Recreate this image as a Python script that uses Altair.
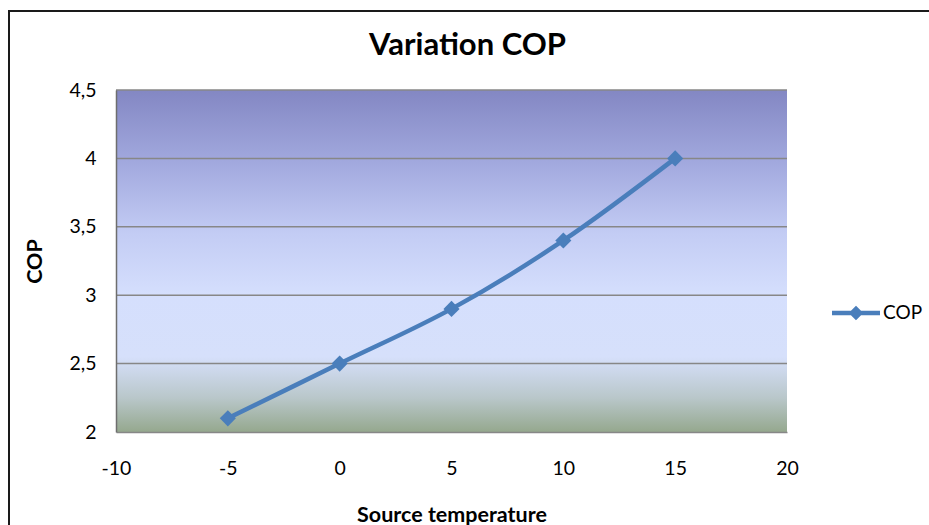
import altair as alt
import pandas as pd

# Source temperature (°C) and measured coefficient of performance
temperature = [-5, 0, 5, 10, 15]
cop = [2.1, 2.5, 2.9, 3.4, 4.0]
series_name = "COP"
chart_title = "Variation COP"

x_ticks = [-10, -5, 0, 5, 10, 15, 20]
y_ticks = [2, 2.5, 3, 3.5, 4, 4.5]

W, H = 671, 342
FONT = "Lato"
LINE_COLOR = "#4a7ebb"
GRID_COLOR = "#878787"

df = pd.DataFrame({"temp": temperature, "cop": cop, "series": [series_name] * len(cop)})
grid_df = pd.DataFrame({"cop": y_ticks[1:]})

x_scale = alt.Scale(domain=[x_ticks[0], x_ticks[-1]], nice=False, zero=False)
y_scale = alt.Scale(domain=[y_ticks[0], y_ticks[-1]], nice=False, zero=False)

x_axis = alt.Axis(
    values=x_ticks, title="Source temperature", grid=False, ticks=False,
    domainColor=GRID_COLOR, domainWidth=1.5,
    labelExpr="toString(datum.value)", labelFlush=False,
    labelFont=FONT, labelFontSize=19.5, labelColor="#000", labelPadding=27,
    titleFont=FONT, titleFontSize=21.5, titleFontWeight="bold", titleColor="#000",
    titleBaseline="alphabetic", titleY=89, titleX=W / 2, zindex=1,
)
y_axis = alt.Axis(
    values=y_ticks, title="COP", grid=False, ticks=False,
    domainColor="#6e6e6e", domainWidth=1.5,
    labelExpr="replace(toString(datum.value), '.', ',')", labelFlush=False,
    labelFont=FONT, labelFontSize=19.5, labelColor="#000", labelPadding=20,
    titleFont=FONT, titleFontSize=21.5, titleFontWeight="bold", titleColor="#000",
    titleAngle=-90, titleBaseline="middle", titleX=-81, titleY=H / 2, zindex=1,
)

# Excel-style vertical gradient behind the plot
gradient = alt.LinearGradient(
    gradient="linear", x1=0, y1=0, x2=0, y2=1,
    stops=[
        alt.GradientStop(color="#8387c3", offset=0.0),
        alt.GradientStop(color="#a3aadf", offset=0.22),
        alt.GradientStop(color="#c3ccf4", offset=0.42),
        alt.GradientStop(color="#d5dffd", offset=0.6),
        alt.GradientStop(color="#d6e0fb", offset=0.78),
        alt.GradientStop(color="#b9c7ca", offset=0.9),
        alt.GradientStop(color="#95a88e", offset=1.0),
    ],
)

one_row = alt.Data(values=[{}])

background = alt.Chart(one_row).mark_rect(fill=gradient).encode(
    x=alt.value(0), x2=alt.value(W), y=alt.value(0), y2=alt.value(H)
)

# Outer chart border
frame = alt.Chart(one_row).mark_rect(
    fill="transparent", stroke="#1a1a1a", strokeWidth=2
).encode(
    x=alt.value(-107), x2=alt.value(W + 160), y=alt.value(-79), y2=alt.value(H + 120)
)

title = alt.Chart(one_row).mark_text(
    text=chart_title, font=FONT, fontSize=31, fontWeight="bold", color="#000",
    align="center", baseline="alphabetic",
).encode(x=alt.value(W / 2 + 16), y=alt.value(-35))

grid = alt.Chart(grid_df).mark_rule(color=GRID_COLOR, strokeWidth=1.5).encode(
    y=alt.Y("cop:Q", scale=y_scale, axis=y_axis)
)

line = alt.Chart(df).mark_line(
    color=LINE_COLOR, strokeWidth=4.5, interpolate="catmull-rom"
).encode(
    x=alt.X("temp:Q", scale=x_scale, axis=x_axis),
    y=alt.Y("cop:Q", scale=y_scale, axis=y_axis),
)

legend_symbol = (
    "M-1,-0.09L-0.21,-0.09L0,-0.3L0.21,-0.09L1,-0.09L1,0.09"
    "L0.21,0.09L0,0.3L-0.21,0.09L-1,0.09Z"
)

points = alt.Chart(df).mark_point(
    shape="diamond", filled=True, size=260, opacity=1
).encode(
    x=alt.X("temp:Q", scale=x_scale, axis=x_axis),
    y=alt.Y("cop:Q", scale=y_scale, axis=y_axis),
    color=alt.Color(
        "series:N",
        scale=alt.Scale(range=[LINE_COLOR]),
        legend=alt.Legend(
            title=None, orient="none", legendX=716, legendY=199,
            symbolType=legend_symbol, symbolSize=2304, symbolStrokeWidth=0,
            symbolOpacity=1, labelFont=FONT, labelFontSize=19, labelColor="#000",
            labelOffset=3, padding=0,
        ),
    ),
)

chart = alt.layer(background, grid, line, points, title, frame).properties(
    width=W,
    height=H,
    padding={"left": 116, "top": 90, "right": 142, "bottom": 93},
    autosize=alt.AutoSizeParams(type="none"),
    background="white",
).configure_view(strokeWidth=0)

chart.save("out.html", embed_options={"renderer": "svg", "actions": False})
